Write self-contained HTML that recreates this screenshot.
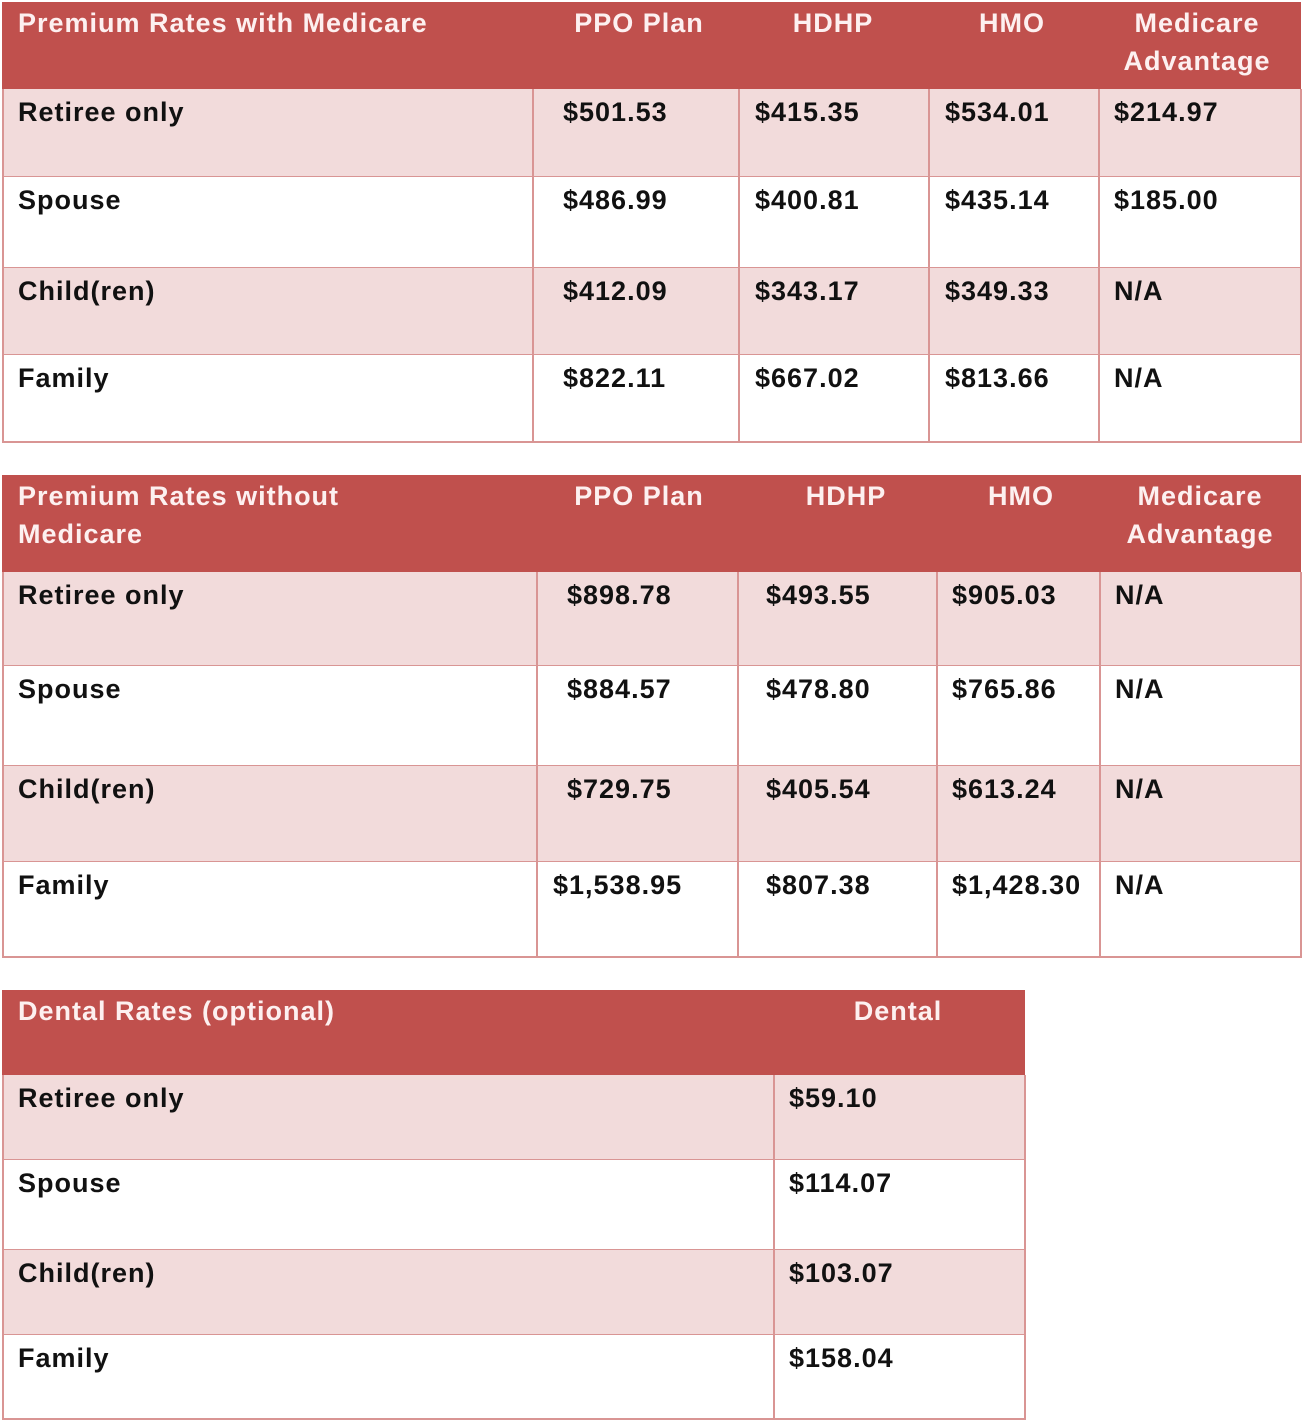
<!DOCTYPE html>
<html><head><meta charset="utf-8"><style>
body{margin:0;width:1304px;height:1421px;background:#fff;position:relative;overflow:hidden;font-family:"Liberation Sans",sans-serif;font-weight:bold}
.hd{position:absolute;background:#C0504D}
.row{position:absolute;box-sizing:border-box;border:2px solid #D99594;border-top:none}
.vl{position:absolute;width:2px;background:#D99594}
.t{position:absolute;font-size:27px;letter-spacing:1px;line-height:38px;white-space:nowrap;color:#111}
.h{color:#FDF0F0}
</style></head><body>
<script>
const rowLabels=["Retiree only","Spouse","Child(ren)","Family"];
const t1Head=["Premium Rates with Medicare","PPO Plan","HDHP","HMO","Medicare<br>Advantage"];
const t1Vals=[["$501.53","$415.35","$534.01","$214.97"],["$486.99","$400.81","$435.14","$185.00"],["$412.09","$343.17","$349.33","N/A"],["$822.11","$667.02","$813.66","N/A"]];
const t2Head=["Premium Rates without<br>Medicare","PPO Plan","HDHP","HMO","Medicare<br>Advantage"];
const t2Vals=[["$898.78","$493.55","$905.03","N/A"],["$884.57","$478.80","$765.86","N/A"],["$729.75","$405.54","$613.24","N/A"],["$1,538.95","$807.38","$1,428.30","N/A"]];
const t3Head=["Dental Rates (optional)","Dental"];
const t3Vals=[["$59.10"],["$114.07"],["$103.07"],["$158.04"]];

const tables=[
 {name:"medicare-table",head:t1Head,vals:t1Vals,x0:2,x1:1301,hy:2,rows:[89,177,268,355,442],cols:[533,739,929,1099],vx:[[563,755,945,1114]],hx:[639,833,1012,1197]},
 {name:"non-medicare-table",head:t2Head,vals:t2Vals,x0:2,x1:1301,hy:475,rows:[572,666,766,862,957],cols:[537,738,937,1100],vx:[[567,766,952,1115]],hx:[639,846,1021,1200]},
 {name:"dental-table",head:t3Head,vals:t3Vals,x0:2,x1:1025,hy:990,rows:[1075,1160,1250,1335,1419],cols:[774],vx:[[789]],hx:[898]}
];
function add(tag,cls,name,css,html){const e=document.createElement(tag);e.className=cls;


Object.assign(e.style,css);if(html!==undefined)e.innerHTML=html;document.body.appendChild(e);return e;}
tables.forEach(T=>{
 add('div','hd',T.name+'-header',{left:T.x0+'px',top:T.hy+'px',width:(T.x1-T.x0)+'px',height:(T.rows[0]-T.hy)+'px'});
 add('div','t h',T.name+'-title',{left:'18px',top:(T.hy+2)+'px'},T.head[0]);
 for(let c=1;c<T.head.length;c++){
  add('div','t h',T.name+'-col-header',{left:T.hx[c-1]+'px',top:(T.hy+2)+'px',transform:'translateX(-50%)',textAlign:'center'},T.head[c]);
 }
 for(let r=0;r<4;r++){
  const y0=T.rows[r],y1=T.rows[r+1];
  add('div','row',T.name+'-row',{left:T.x0+'px',top:y0+'px',width:(T.x1-T.x0+1)+'px',height:(y1-y0+1)+'px',background:r%2===0?'#F2DBDB':'#fff'});
  add('div','t',T.name+'-row-label',{left:'18px',top:(y0+4)+'px'},rowLabels[r]);
  T.vals[r].forEach((v,c)=>{
   let x=T.vx[0][c];
   if(T.name==="non-medicare-table"&&c===0&&v.length>7)x=553;
   add('div','t',T.name+'-value',{left:x+'px',top:(y0+4)+'px'},v);
  });
 }
 T.cols.forEach(cx=>{
  add('div','vl',T.name+'-col-divider',{left:(cx-1)+'px',top:T.rows[0]+'px',height:(T.rows[4]-T.rows[0])+'px'});
 });
});
</script>
</body></html>
